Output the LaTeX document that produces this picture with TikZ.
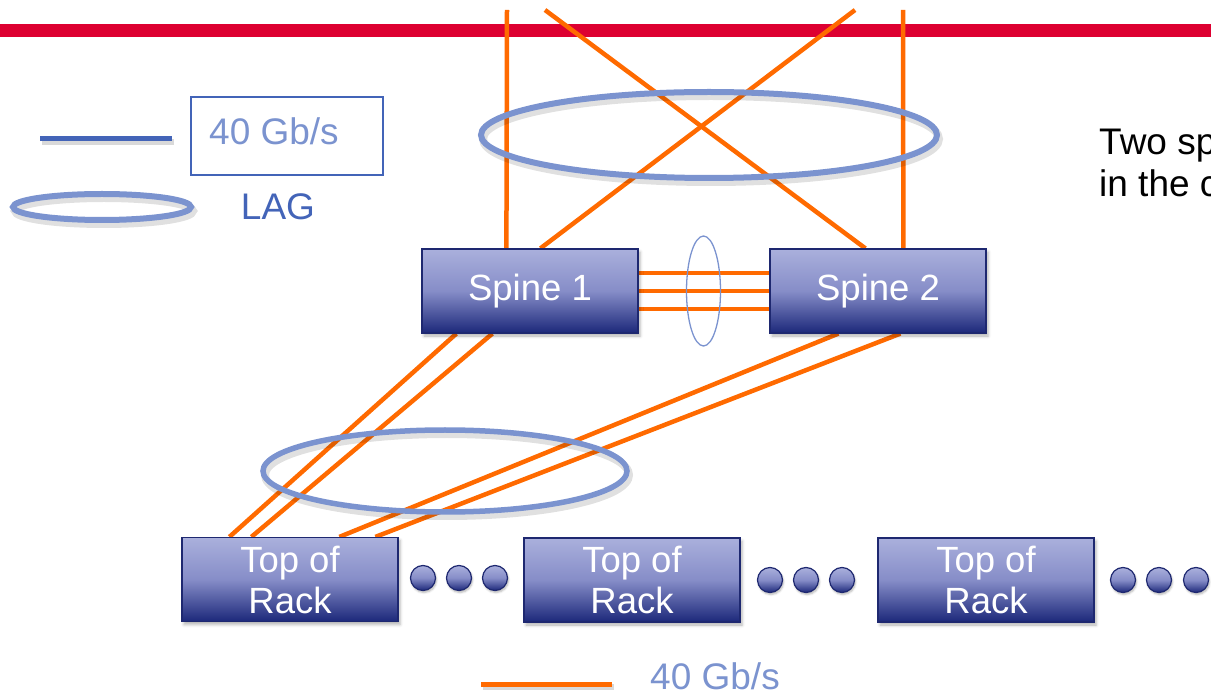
\documentclass[tikz,border=0pt]{standalone}
\usepackage{fontspec}
\setmainfont{Liberation Sans}
\usetikzlibrary{calc,shadows.blur}
\definecolor{redbar}{HTML}{DD0031}
\definecolor{linkorange}{HTML}{FF6A00}
\definecolor{lagblue}{HTML}{7B93CF}
\definecolor{legblue}{HTML}{4364B8}
\definecolor{boxtop}{HTML}{AAB0DC}
\definecolor{boxmid}{HTML}{868DC8}
\definecolor{boxbot}{HTML}{1C287A}
\definecolor{boxedge}{HTML}{1E2870}
\pgfdeclarelayer{back}
\pgfsetlayers{back,main}
\begin{document}
\begin{tikzpicture}[x=1pt,y=-1pt,
  olink/.style={draw=linkorange,line width=4.5pt},
  switchbox/.style={draw=boxedge,line width=1.2pt,top color=boxtop,bottom color=boxbot,middle color=boxmid,
    minimum width=216pt,minimum height=84pt,inner sep=0pt,text=white,align=center,
    font=\fontsize{36.5}{41}\selectfont,
    blur shadow={shadow xshift=2pt,shadow yshift=-3pt,shadow blur radius=3pt,shadow opacity=30}},
  dotnode/.style={circle,draw=boxedge,line width=1.2pt,top color=boxtop,bottom color=boxbot,middle color=boxmid,
    minimum size=25pt,inner sep=0pt,
    blur shadow={shadow xshift=1pt,shadow yshift=-2pt,shadow blur radius=2pt,shadow opacity=30}},
  lag/.style={draw=lagblue,line width=6pt},
  lagshade/.style={draw=black,opacity=0.12,line width=8pt},
  label/.style={font=\fontsize{37}{42}\selectfont},
]
\useasboundingbox (0,0) rectangle (1211,692);
\clip (0,0) rectangle (1211,692);

% switches
\node[switchbox] (spine1) at (530,291) {Spine 1};
\node[switchbox] (spine2) at (878,291) {Spine 2};
\node[switchbox] (tor1) at (290,579.5) {Top of\\Rack};
\node[switchbox] (tor2) at (632,580) {Top of\\Rack};
\node[switchbox] (tor3) at (986,580) {Top of\\Rack};

% ellipsis dots between racks
\foreach \x [count=\i] in {423,459,495} \node[dotnode] (da\i) at (\x,578) {};
\foreach \x [count=\i] in {770,806,842} \node[dotnode] (db\i) at (\x,580) {};
\foreach \x [count=\i] in {1123,1159,1196} \node[dotnode] (dc\i) at (\x,580) {};

% upstream link ends
\coordinate (up1) at (507,10);
\coordinate (up2) at (545,10);
\coordinate (up3) at (855,10);
\coordinate (up4) at (903,10);

\begin{pgfonlayer}{back}
  \fill[redbar] (0,24) rectangle (1211,37);
  % spine uplinks
  \draw[olink] ([xshift=85pt]spine1.north west) -- (up1);
  \draw[olink] ([xshift=119pt]spine1.north west) -- (up3);
  \draw[olink] ([xshift=96pt]spine2.north west) -- (up2);
  \draw[olink] ([xshift=134pt]spine2.north west) -- (up4);
  % inter-spine links
  \foreach \d in {18,0,-18}
    \draw[olink] ([yshift=\d pt]spine1.east) -- ([yshift=\d pt]spine2.east -| spine2.west);
  % spine to top-of-rack links
  \draw[olink] ([xshift=35pt]spine1.south west) -- ([xshift=48pt]tor1.north west);
  \draw[olink] ([xshift=71pt]spine1.south west) -- ([xshift=70pt]tor1.north west);
  \draw[olink] ([xshift=69pt]spine2.south west) -- ([xshift=158pt]tor1.north west);
  \draw[olink] ([xshift=131pt]spine2.south west) -- ([xshift=194pt]tor1.north west);
\end{pgfonlayer}

% LAG groupings
\draw[lagshade] (711,139) ellipse [x radius=228pt, y radius=43pt];
\draw[lag] (709,135) ellipse [x radius=228pt, y radius=43pt];
\draw[lagshade] (447,475) ellipse [x radius=182pt, y radius=41pt];
\draw[lag,line width=5.5pt] (445,471) ellipse [x radius=182pt, y radius=41pt];
\draw[draw=lagblue,line width=1.3pt] (703.5,291) ellipse [x radius=17pt, y radius=55pt];

% legend
\draw[black,opacity=0.15,line width=6pt] (42,142) -- (174,142);
\draw[legblue,line width=5pt] (40,139) -- (172,139);
\node[draw=legblue,line width=1.2pt,minimum width=192pt,minimum height=78pt,inner sep=0pt] (legbox) at (287,136) {};
\node[label,text=lagblue,anchor=west,inner sep=0pt] (legtext) at (209,131) {40 Gb/s};
\draw[lagshade,line width=8pt] (104,211) ellipse [x radius=89pt, y radius=13pt];
\draw[lag,line width=6pt] (102,207) ellipse [x radius=89pt, y radius=13pt];
\node[label,text=legblue] (lagtext) at (278,207) {LAG};

\draw[black,opacity=0.15,line width=6pt] (483,687) -- (614,687);
\draw[linkorange,line width=5pt] (481,684) -- (612,684);
\node[label,text=lagblue] (linktext) at (715,676) {40 Gb/s};

% side note
\node[font=\fontsize{37}{42}\selectfont,anchor=base west,inner sep=0pt] (note1) at (1099,155) {Two sp};
\node[font=\fontsize{37}{42}\selectfont,anchor=base west,inner sep=0pt] (note2) at (1099,197) {in the c};
\end{tikzpicture}
\end{document}
